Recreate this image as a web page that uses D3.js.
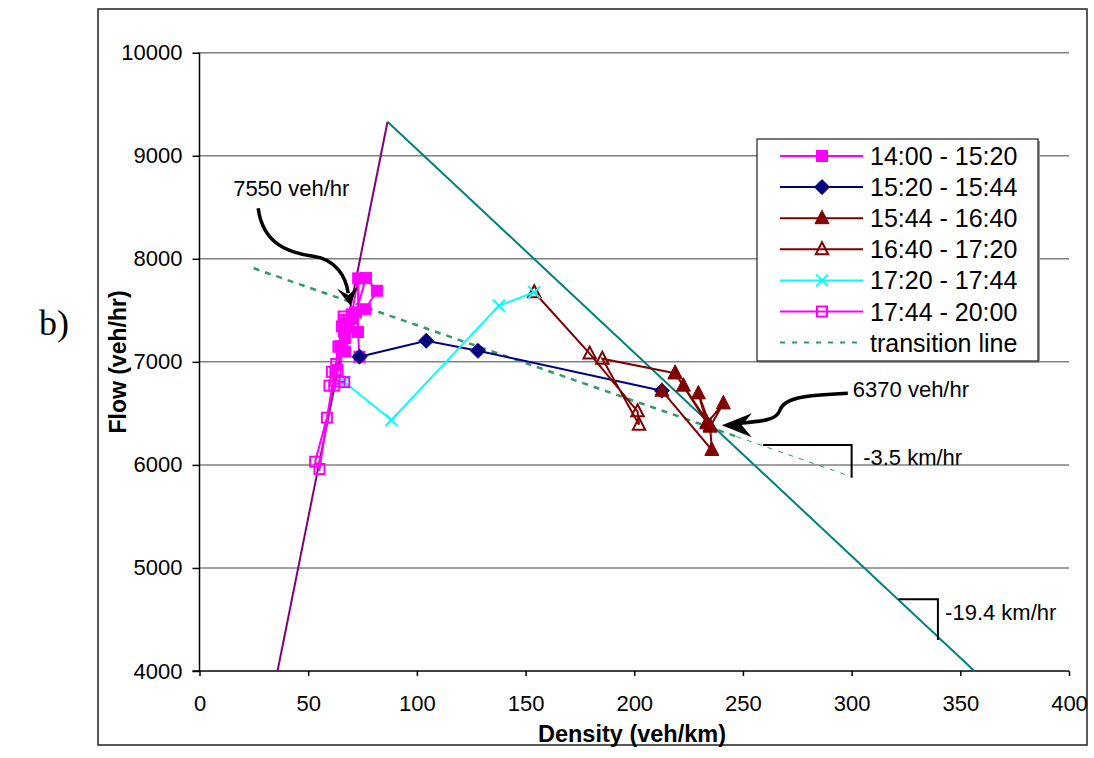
<!DOCTYPE html>
<html><head><meta charset="utf-8">
<script src="https://cdn.jsdelivr.net/npm/d3@7"></script>
<style>body{margin:0;background:#fff}</style>
</head><body><svg id="c" width="1094" height="758"></svg>
<script>
const xTicks=[0,50,100,150,200,250,300,350,400];
const yTicks=[4000,5000,6000,7000,8000,9000,10000];
const seriesNames=["14:00 - 15:20","15:20 - 15:44","15:44 - 16:40","16:40 - 17:20","17:20 - 17:44","17:44 - 20:00","transition line"];
const s1400=[[67,7230],[68.5,7330],[70.5,7420],[72,7480],[76.6,7815],[81.6,7690],[76.3,7510],[70,7460],[68,7380],[66.5,7290],[65.5,7150],[67,7100],[73,7810],[72.9,7290],[73.6,7050]];
const s1520=[[73.6,7050],[104.3,7204],[128.1,7107],[212.7,6720]];
const s1544=[[212.7,6720],[235.7,6145],[234.9,6371],[241,6597],[233.4,6403],[229.5,6694],[234.9,6380],[222.6,6769],[233.4,6410],[218.8,6889]];
const s1640=[[218.8,6889],[185.3,7030],[202.2,6390],[201.5,6520],[179.5,7080],[154,7675]];
const s1720=[[154,7675],[137.8,7545],[88.3,6436],[66.6,6804]];
const s1744=[[66.6,6804],[64.4,6807],[62,6769],[59.8,6769],[60.9,6904],[63.5,6921],[62.9,6979],[58.6,6458],[53.2,6031],[55.2,5960],[63.9,7147],[65.5,7115],[66.3,7358],[67,7406],[66.3,7440],[65.5,7343],[64.7,7150],[62.5,6900]];
const freeFlowLine=[[35.9,4000],[86.5,9330]];
const congestedLine=[[86.5,9330],[356.5,4000]];
const transitionLine=[[24.9,7908],[247,6275]];
const transitionExt=[[247,6275],[300,5885]];

const svg=d3.select("#c");
const x=d3.scaleLinear([0,400],[199.5,1069]);
const y=d3.scaleLinear([4000,10000],[671,52.7]);
const FONT="'Liberation Sans', Arial, sans-serif";

svg.append("rect").attr("x",98).attr("y",9).attr("width",989).attr("height",736)
  .attr("fill","#fff").attr("stroke","#222").attr("stroke-width",1.5);

// gridlines
svg.append("g").selectAll("line").data(yTicks.filter(v=>v>4000)).join("line")
  .attr("x1",x(0)).attr("x2",x(400)).attr("y1",d=>y(d)).attr("y2",d=>y(d))
  .attr("stroke","#808080").attr("stroke-width",1.5);

// axes
const ya=svg.append("g").attr("transform",`translate(${x(0)},0)`)
  .call(d3.axisLeft(y).tickValues(yTicks).tickSize(7).tickPadding(10).tickFormat(d3.format("d")));
ya.select(".domain").remove();
ya.selectAll("line").attr("stroke","#000").attr("stroke-width",1.5);
ya.selectAll("text").attr("font-family",FONT).attr("font-size",22).attr("fill","#000");
const xa=svg.append("g").attr("transform",`translate(0,${y(4000)})`)
  .call(d3.axisBottom(x).tickValues(xTicks).tickSize(5).tickPadding(19).tickFormat(d3.format("d")));
xa.select(".domain").remove();
xa.selectAll("line").attr("stroke","#000").attr("stroke-width",1.5);
xa.selectAll("text").attr("font-family",FONT).attr("font-size",22).attr("fill","#000");
svg.append("line").attr("x1",x(0)).attr("x2",x(0)).attr("y1",y(10000)).attr("y2",y(4000)).attr("stroke","#000").attr("stroke-width",1.5);
svg.append("line").attr("x1",x(0)-7).attr("x2",x(400)).attr("y1",y(4000)).attr("y2",y(4000)).attr("stroke","#000").attr("stroke-width",1.5);

const line=d3.line().x(d=>x(d[0])).y(d=>y(d[1]));
svg.append("path").attr("d",line(freeFlowLine)).attr("fill","none").attr("stroke","#800080").attr("stroke-width",2);
svg.append("path").attr("d",line(congestedLine)).attr("fill","none").attr("stroke","#008080").attr("stroke-width",2);
svg.append("path").attr("d",line(transitionLine)).attr("fill","none").attr("stroke","#339966").attr("stroke-width",2.5).attr("stroke-dasharray","6,6");
svg.append("path").attr("d",line(transitionExt)).attr("fill","none").attr("stroke","#339966").attr("stroke-width",1).attr("stroke-dasharray","5,6");

// marker shapes
const markers={
  fsq:(g,c)=>g.append("rect").attr("x",-5.5).attr("y",-5.5).attr("width",11).attr("height",11).attr("fill",c).attr("stroke",c),
  dia:(g,c)=>g.append("path").attr("d","M0,-7.5L7.5,0L0,7.5L-7.5,0Z").attr("fill",c).attr("stroke",c),
  ftri:(g,c)=>g.append("path").attr("d","M0,-8L7,5.5L-7,5.5Z").attr("fill",c).attr("stroke",c),
  htri:(g,c)=>g.append("path").attr("d","M0,-7L6.2,5L-6.2,5Z").attr("fill","none").attr("stroke",c).attr("stroke-width",2),
  xm:(g,c)=>g.append("path").attr("d","M-6,-6L6,6M-6,6L6,-6").attr("fill","none").attr("stroke",c).attr("stroke-width",2),
  hsq:(g,c)=>g.append("rect").attr("x",-5).attr("y",-5).attr("width",10).attr("height",10).attr("fill","none").attr("stroke",c).attr("stroke-width",2)
};
const series=[
  {data:s1400,color:"#FF00FF",m:"fsq"},
  {data:s1520,color:"#000080",m:"dia"},
  {data:s1544,color:"#800000",m:"ftri"},
  {data:s1640,color:"#800000",m:"htri"},
  {data:s1720,color:"#00FFFF",m:"xm"},
  {data:s1744,color:"#FF00FF",m:"hsq"}
];
series.forEach(s=>{
  const g=svg.append("g");
  g.append("path").attr("d",line(s.data)).attr("fill","none").attr("stroke",s.color).attr("stroke-width",2);
  s.data.forEach(d=>{const mg=g.append("g").attr("transform",`translate(${x(d[0])},${y(d[1])})`);markers[s.m](mg,s.color);});
});

// legend
const lg=svg.append("g");
lg.append("rect").attr("x",759).attr("y",141).attr("width",281).attr("height",222).attr("fill","#999");
lg.append("rect").attr("x",757).attr("y",139).attr("width",281).attr("height",222).attr("fill","#fff").attr("stroke","#222").attr("stroke-width",1.2);
seriesNames.forEach((n,i)=>{
  const yy=156+i*31.1;
  if(i<6){
    const s=series[i];
    lg.append("line").attr("x1",780).attr("x2",863).attr("y1",yy).attr("y2",yy).attr("stroke",s.color).attr("stroke-width",2);
    markers[s.m](lg.append("g").attr("transform",`translate(822,${yy})`),s.color);
  } else {
    lg.append("line").attr("x1",780).attr("x2",863).attr("y1",yy).attr("y2",yy).attr("stroke","#339966").attr("stroke-width",2).attr("stroke-dasharray","5,7");
  }
  lg.append("text").attr("x",870).attr("y",yy).attr("dy","0.36em").attr("font-family",FONT).attr("font-size",25).attr("fill","#000").text(n);
});

// axis titles
svg.append("text").attr("x",632).attr("y",742).attr("text-anchor","middle").attr("font-family",FONT).attr("font-weight","bold").attr("font-size",23.5).text("Density (veh/km)");
svg.append("text").attr("transform","translate(126,362) rotate(-90)").attr("text-anchor","middle").attr("font-family",FONT).attr("font-weight","bold").attr("font-size",23).text("Flow (veh/hr)");
svg.append("text").attr("x",39).attr("y",335).attr("font-family","'Liberation Serif','Times New Roman',serif").attr("font-size",36).text("b)");

// annotations
const ann=svg.append("g");
const t1=[x(69.3),y(7550)];
ann.append("path").attr("d",`M${t1[0]-92},${t1[1]-97} C${t1[0]-87},${t1[1]-60} ${t1[0]-60},${t1[1]-52} ${t1[0]-37},${t1[1]-49} C${t1[0]-14},${t1[1]-46} ${t1[0]-4},${t1[1]-28} ${t1[0]-2},${t1[1]-12}`).attr("fill","none").attr("stroke","#000").attr("stroke-width",3.5);
ann.append("path").attr("d",`M${t1[0]},${t1[1]} L${t1[0]-13.3},${t1[1]-16.7} L${t1[0]-1.7},${t1[1]-10} L${t1[0]+8.3},${t1[1]-20}Z`).attr("fill","#000");
ann.append("text").attr("x",t1[0]-117).attr("y",t1[1]-109).attr("font-family",FONT).attr("font-size",22).text("7550 veh/hr");
const t2=[x(240.3),y(6385)];
ann.append("path").attr("d",`M${t2[0]+18},${t2[1]-2} C${t2[0]+40},${t2[1]-4} ${t2[0]+55},${t2[1]-5} ${t2[0]+58},${t2[1]-15} C${t2[0]+62},${t2[1]-27} ${t2[0]+80},${t2[1]-30} ${t2[0]+126},${t2[1]-32}`).attr("fill","none").attr("stroke","#000").attr("stroke-width",3.5);
ann.append("path").attr("d",`M${t2[0]},${t2[1]} L${t2[0]+30},${t2[1]-12} L${t2[0]+20},${t2[1]} L${t2[0]+30},${t2[1]+12}Z`).attr("fill","#000");
ann.append("text").attr("x",t2[0]+131).attr("y",t2[1]-28).attr("font-family",FONT).attr("font-size",22).text("6370 veh/hr");
// slope brackets
ann.append("path").attr("d",`M${x(259.3)},${y(6193)}H${x(300)}V${y(5875)}`).attr("fill","none").attr("stroke","#000").attr("stroke-width",2);
ann.append("text").attr("x",x(305.3)).attr("y",464.5).attr("font-family",FONT).attr("font-size",22).text("-3.5 km/hr");
ann.append("path").attr("d",`M${x(321.6)},${y(4696)}H${x(339.7)}V${y(4302)}`).attr("fill","none").attr("stroke","#000").attr("stroke-width",2);
ann.append("text").attr("x",x(343)).attr("y",y(4493)).attr("font-family",FONT).attr("font-size",22).text("-19.4 km/hr");
</script></body></html>
